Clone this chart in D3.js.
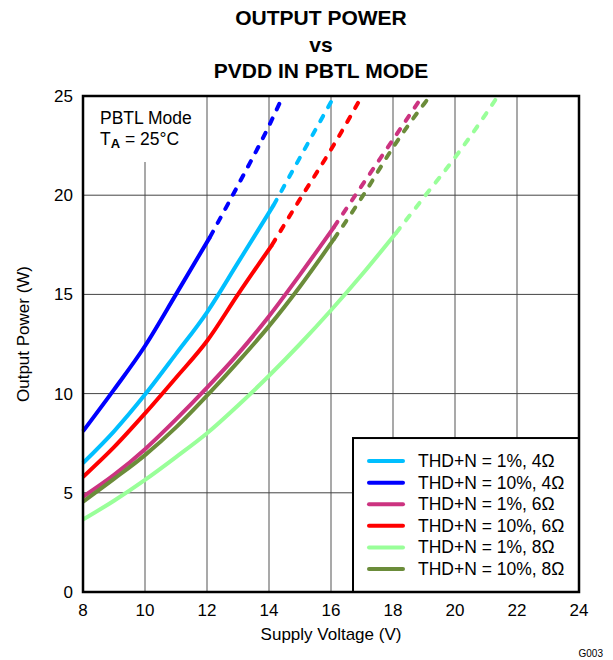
<!DOCTYPE html>
<html>
<head>
<meta charset="utf-8">
<script src="https://cdn.jsdelivr.net/npm/d3@7"></script>
<style>
  body { margin: 0; background: #fff; }
  text { font-family: "Liberation Sans", Arial, sans-serif; }
</style>
</head>
<body>
<div id="chart"></div>
<script>
// series data: [voltage, power] pairs, solid part then dashed continuation
const seriesNames = ["THD+N = 1%, 4Ω", "THD+N = 10%, 4Ω", "THD+N = 1%, 6Ω",
    "THD+N = 10%, 6Ω", "THD+N = 1%, 8Ω", "THD+N = 10%, 8Ω"];
const seriesColors = ["#00BFFF", "#0000FF", "#CC3380", "#FF0000", "#99FF99", "#6B8C3A"];

const thd1_4_solid = [[8, 6.5], [9, 8.1], [10, 9.95], [11, 12.0], [12, 14.1], [13, 16.6], [14.15, 19.5]];
const thd1_4_dash = [[14.15, 19.5], [15, 21.9], [16, 24.7]];
const thd10_4_solid = [[8, 8.1], [9, 10.2], [10, 12.4], [11, 15.0], [12.1, 17.9]];
const thd10_4_dash = [[12.1, 17.9], [13, 20.5], [14, 23.5], [14.45, 25]];
const thd1_6_solid = [[8, 4.8], [9, 5.9], [10, 7.2], [11, 8.7], [12, 10.3], [13, 12.0], [14, 13.9], [15, 16.0], [16.1, 18.4]];
const thd1_6_dash = [[16.1, 18.4], [17, 20.5], [18, 22.8], [18.95, 25]];
const thd10_6_solid = [[8, 5.8], [9, 7.3], [10, 9.0], [11, 10.8], [12, 12.65], [13, 15.0], [14.1, 17.5]];
const thd10_6_dash = [[14.1, 17.5], [15, 19.8], [16, 22.3], [17, 25]];
const thd1_8_solid = [[8, 3.65], [9, 4.6], [10, 5.65], [11, 6.8], [12, 8.0], [13, 9.4], [14, 10.9], [15, 12.5], [16, 14.2], [17, 16.0], [18.1, 18.1]];
const thd1_8_dash = [[18.1, 18.1], [19, 19.9], [20, 21.9], [21, 24.1], [21.3, 24.8]];
const thd10_8_solid = [[8, 4.55], [9, 5.7], [10, 6.9], [11, 8.3], [12, 9.9], [13, 11.6], [14, 13.4], [15, 15.4], [16.1, 17.8]];
const thd10_8_dash = [[16.1, 17.8], [17, 19.9], [18, 22.4], [19, 24.6], [19.2, 25]];

const solidSets = [thd1_4_solid, thd10_4_solid, thd1_6_solid, thd10_6_solid, thd1_8_solid, thd10_8_solid];
const dashSets = [thd1_4_dash, thd10_4_dash, thd1_6_dash, thd10_6_dash, thd1_8_dash, thd10_8_dash];

const xTicks = [8, 10, 12, 14, 16, 18, 20, 22, 24];
const yTicks = [0, 5, 10, 15, 20, 25];
const titleLines = ["OUTPUT POWER", "vs", "PVDD IN PBTL MODE"];

const W = 613, H = 660;
const margin = { top: 96, right: 34, bottom: 68, left: 83 };
const width = W - margin.left - margin.right,
    height = H - margin.top - margin.bottom;

const svg = d3.select("#chart").append("svg")
    .attr("width", W)
    .attr("height", H);

const g = svg.append("g")
    .attr("transform", `translate(${margin.left},${margin.top})`);

const x = d3.scaleLinear().domain([8, 24]).range([0, width]);
const y = d3.scaleLinear().domain([0, 25]).range([height, 0]);

// grid
g.append("g").selectAll("line")
    .data(xTicks.slice(1, -1))
    .enter().append("line")
    .attr("x1", d => x(d)).attr("x2", d => x(d))
    .attr("y1", 0).attr("y2", height)
    .attr("stroke", "#8c8c8c")
    .attr("stroke-width", 1.5);

g.append("g").selectAll("line")
    .data(yTicks.slice(1, -1))
    .enter().append("line")
    .attr("x1", 0).attr("x2", width)
    .attr("y1", d => y(d)).attr("y2", d => y(d))
    .attr("stroke", "#444")
    .attr("stroke-width", 1);

// annotation box hides the grid under it
g.append("rect")
    .attr("x", 1).attr("y", 1)
    .attr("width", 115).attr("height", 65)
    .attr("fill", "#fff");

g.append("text")
    .attr("x", 17).attr("y", 28)
    .style("font-size", "17.5px")
    .text("PBTL Mode");
const ann2 = g.append("text")
    .attr("x", 17).attr("y", 49)
    .style("font-size", "17.5px");
ann2.append("tspan").text("T");
ann2.append("tspan").attr("dy", 3).style("font-size", "13px").style("font-weight", "bold").text("A");
ann2.append("tspan").attr("dy", -3).text(" = 25°C");

// curves
const line = d3.line()
    .x(d => x(d[0]))
    .y(d => y(d[1]))
    .curve(d3.curveMonotoneX);

solidSets.forEach((s, i) => {
    g.append("path")
        .datum(s)
        .attr("fill", "none")
        .attr("stroke", seriesColors[i])
        .attr("stroke-width", 4)
        .attr("d", line);
});

dashSets.forEach((s, i) => {
    g.append("path")
        .datum(s)
        .attr("fill", "none")
        .attr("stroke", seriesColors[i])
        .attr("stroke-width", 4)
        .attr("stroke-linecap", "round")
        .attr("stroke-dasharray", "6,10")
        .attr("d", line);
});

// legend
const lgX = x(16.71), lgY = y(7.76);
const legend = g.append("g").attr("transform", `translate(${lgX},${lgY})`);
legend.append("rect")
    .attr("width", width - lgX)
    .attr("height", height - lgY)
    .attr("fill", "#fff")
    .attr("stroke", "#000")
    .attr("stroke-width", 2);

seriesNames.forEach((name, i) => {
    const row = legend.append("g").attr("transform", `translate(0,${23 + i * 21.6})`);
    row.append("line")
        .attr("x1", 16).attr("x2", 50)
        .attr("stroke", seriesColors[i])
        .attr("stroke-width", 4)
        .attr("stroke-linecap", "round");
    row.append("text")
        .attr("x", 65).attr("y", 6)
        .style("font-size", "17.5px")
        .text(name);
});

// frame
g.append("rect")
    .attr("width", width).attr("height", height)
    .attr("fill", "none")
    .attr("stroke", "#000")
    .attr("stroke-width", 2.5);

// tick labels
g.append("g").selectAll("text")
    .data(xTicks)
    .enter().append("text")
    .attr("x", d => x(d))
    .attr("y", height + 24)
    .attr("text-anchor", "middle")
    .style("font-size", "17px")
    .text(d => d);

g.append("g").selectAll("text")
    .data(yTicks)
    .enter().append("text")
    .attr("x", -10)
    .attr("y", d => y(d) + 6)
    .attr("text-anchor", "end")
    .style("font-size", "17px")
    .text(d => d);

// axis titles
svg.append("text")
    .attr("x", margin.left + width / 2)
    .attr("y", 640)
    .attr("text-anchor", "middle")
    .style("font-size", "17px")
    .text("Supply Voltage (V)");

svg.append("text")
    .attr("transform", `translate(29,${margin.top + height / 2 - 10}) rotate(-90)`)
    .attr("text-anchor", "middle")
    .style("font-size", "17px")
    .text("Output Power (W)");

// title
svg.append("g").selectAll("text")
    .data(titleLines)
    .enter().append("text")
    .attr("x", 321)
    .attr("y", (d, i) => 25 + i * 26.5)
    .attr("text-anchor", "middle")
    .style("font-size", "21px")
    .style("font-weight", "bold")
    .text(d => d);

svg.append("text")
    .attr("x", 603)
    .attr("y", 657)
    .attr("text-anchor", "end")
    .style("font-size", "10px")
    .text("G003");
</script>
</body>
</html>
